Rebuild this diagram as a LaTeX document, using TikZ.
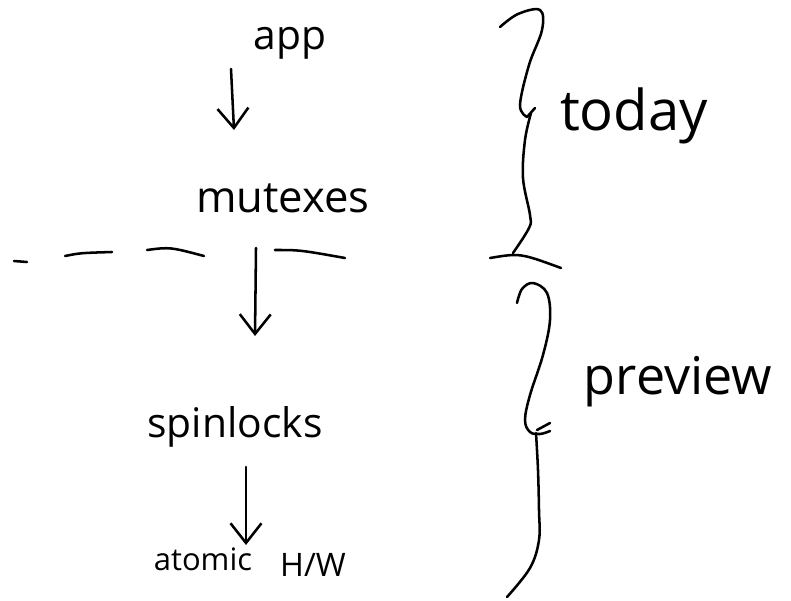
\documentclass[tikz,border=0pt]{standalone}
\usepackage{fontspec}
\setmainfont{Open Sans}
\usetikzlibrary{arrows.meta}

\tikzset{
    pen/.style={line width=1.8pt, line cap=round, line join=round},
    arr/.style={pen, -{Straight Barb[length=14pt,width=22pt,line width=1.8pt]}},
    word/.style={inner sep=0pt, anchor=base},
}

\begin{document}
\begin{tikzpicture}[x=0.025cm, y=-0.025cm]
    \useasboundingbox (0,0) rectangle (791,600);

    % the layers
    \node[word, font=\fontsize{29}{32}\selectfont] (app) at (290,49) {app};
    \node[word, font=\fontsize{31}{36}\selectfont] (mutexes) at (283,212) {mutexes};
    \node[word, font=\fontsize{29}{34}\selectfont] (spinlocks) at (235,437) {spinlocks};
    \node[word, font=\fontsize{22}{26}\selectfont] (atomic) at (203,570) {atomic};
    \node[word, font=\fontsize{23}{26}\selectfont] (hw) at (313,576) {H/W};

    % the two halves
    \node[word, font=\fontsize{40}{44}\selectfont] (today) at (634,130) {today};
    \node[word, font=\fontsize{37}{42}\selectfont] (preview) at (678,394) {preview};

    % arrows between the layers
    \coordinate (a1) at (231,69);
    \coordinate (a2) at (234,130);
    \coordinate (m1) at (256,248);
    \coordinate (m2) at (255,336);
    \coordinate (s1) at (246,467);
    \coordinate (s2) at (246,545);
    \draw[arr] (a1) -- (a2);
    \draw[arr] (m1) -- (m2);
    \draw[arr] (s1) -- (s2);

    % dashed split
    \draw[pen] (14,261) -- (27,262)
        (65,256) .. controls (80,253) .. (112,252)
        (147,250) .. controls (170,247) .. (204,256)
        (275,250) .. controls (300,250) .. (345,258);

    % brace for today
    \draw[pen] plot[smooth, tension=0.6] coordinates
        {(500,27) (518,14) (540,10) (542,30) (529,65) (520,105) (527,117)}
        -- (535,108);
    \draw[pen] plot[smooth, tension=0.6] coordinates
        {(531,113) (525,140) (523,178) (530,215) (529,228) (513,253)};
    \draw[pen] (490,258) .. controls (520,253) .. (561,268);

    % brace for preview
    \draw[pen] plot[smooth, tension=0.6] coordinates
        {(517,303) (522,289) (533,283) (547,293) (550,320) (543,355) (530,395) (525,420) (530,432) (540,434) (550,431)};
    \draw[pen] (537,430) -- (550,423);
    \draw[pen] plot[smooth, tension=0.6] coordinates
        {(536,433) (538,470) (539,510) (539,540) (530,568) (507,597)};
\end{tikzpicture}
\end{document}
